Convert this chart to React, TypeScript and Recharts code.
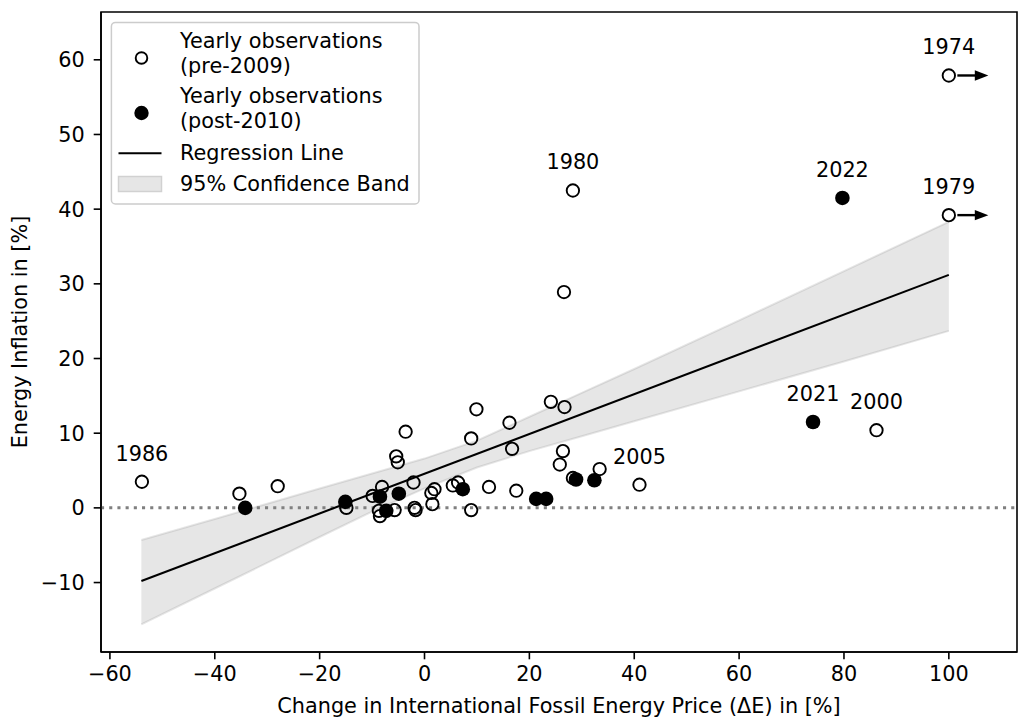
import React from 'react';
import {
  ComposedChart,
  XAxis,
  YAxis,
  Scatter,
  Line,
  Area,
  ReferenceLine,
  ReferenceArea,
} from 'recharts';

// ---------- data ----------
const preObs = [
  { x: 100, y: 57.9 },
  { x: 100, y: 39.2 },
  { x: 28.3, y: 42.5 },
  { x: 26.6, y: 28.9 },
  { x: 86.2, y: 10.4 },
  { x: 41.0, y: 3.1 },
  { x: -53.9, y: 3.5 },
  { x: -35.3, y: 1.9 },
  { x: -28.0, y: 2.9 },
  { x: -14.9, y: 0.0 },
  { x: -9.9, y: 1.6 },
  { x: -8.1, y: 2.8 },
  { x: -8.7, y: -0.4 },
  { x: -8.5, y: -1.1 },
  { x: -5.7, y: -0.3 },
  { x: -5.4, y: 6.9 },
  { x: -5.1, y: 6.1 },
  { x: -3.6, y: 10.2 },
  { x: -2.1, y: 3.4 },
  { x: -1.9, y: 0.0 },
  { x: -1.7, y: -0.3 },
  { x: 1.3, y: 2.0 },
  { x: 1.9, y: 2.5 },
  { x: 1.5, y: 0.5 },
  { x: 5.4, y: 3.0 },
  { x: 6.4, y: 3.4 },
  { x: 8.9, y: -0.3 },
  { x: 8.9, y: 9.3 },
  { x: 9.9, y: 13.2 },
  { x: 12.3, y: 2.8 },
  { x: 16.2, y: 11.4 },
  { x: 16.7, y: 7.9 },
  { x: 17.5, y: 2.3 },
  { x: 24.1, y: 14.2 },
  { x: 26.7, y: 13.5 },
  { x: 26.4, y: 7.6 },
  { x: 25.8, y: 5.8 },
  { x: 28.3, y: 4.0 },
  { x: 33.4, y: 5.2 },
];

const postObs = [
  { x: -34.2, y: 0.0 },
  { x: -15.1, y: 0.8 },
  { x: -8.5, y: 1.5 },
  { x: -7.3, y: -0.4 },
  { x: -4.9, y: 1.9 },
  { x: 7.3, y: 2.5 },
  { x: 21.3, y: 1.2 },
  { x: 23.2, y: 1.2 },
  { x: 28.9, y: 3.8 },
  { x: 32.4, y: 3.7 },
  { x: 74.1, y: 11.5 },
  { x: 79.7, y: 41.5 },
];

const regression = [
  { x: -54, y: -9.8 },
  { x: 100, y: 31.2 },
];

const bandX = [-54, -40, -20, -10, 0, 10, 20, 30, 40, 60, 80, 100];
const bandLower = [-15.6, -10.8, -3.9, -0.5, 2.6, 5.4, 7.6, 9.6, 11.6, 15.6, 19.6, 23.7];
const bandUpper = [-4.3, -1.5, 2.6, 4.6, 6.6, 9.0, 12.2, 15.4, 18.6, 25.1, 31.7, 38.3];

const annotations = [
  { x: 100, y: 57.9, year: '1974' },
  { x: 100, y: 39.2, year: '1979' },
  { x: 28.3, y: 42.5, year: '1980' },
  { x: 79.7, y: 41.5, year: '2022' },
  { x: 74.1, y: 11.5, year: '2021' },
  { x: 86.2, y: 10.4, year: '2000' },
  { x: 41.0, y: 3.1, year: '2005' },
  { x: -53.9, y: 3.5, year: '1986' },
];

const arrows = [
  { x: 100, y: 57.9 },
  { x: 100, y: 39.2 },
];

const xTicks = [-60, -40, -20, 0, 20, 40, 60, 80, 100];
const yTicks = [-10, 0, 10, 20, 30, 40, 50, 60];

const X_DOMAIN: [number, number] = [-61.7, 113];
const Y_DOMAIN: [number, number] = [-19.3, 66.4];

const bandRows = bandX.map((x, i) => ({ x, band: [bandLower[i], bandUpper[i]] }));

// ---------- styles ----------
const FONT = 'DejaVu Sans, Verdana, sans-serif';
const FS = 20.8;
const fmt = (v: number) => (v < 0 ? '\u2212' + Math.abs(v) : String(v));

const OpenMarker = (p: any) => (
  <circle cx={p.cx} cy={p.cy} r={6.2} fill="none" stroke="#000" strokeWidth={1.9} />
);
const FilledMarker = (p: any) => <circle cx={p.cx} cy={p.cy} r={7.3} fill="#000" />;
const ArrowMark = (p: any) => (
  <g>
    <line x1={p.cx + 8.5} y1={p.cy} x2={p.cx + 28} y2={p.cy} stroke="#000" strokeWidth={2.4} />
    <polygon
      points={`${p.cx + 26},${p.cy - 5.2} ${p.cx + 39.5},${p.cy} ${p.cx + 26},${p.cy + 5.2}`}
      fill="#000"
    />
  </g>
);
const YearLabel = (p: any) => (
  <text
    x={p.cx}
    y={p.cy - 21.2}
    textAnchor="middle"
    fontSize={FS}
    fontFamily={FONT}
    fill="#000"
  >
    {p.payload?.year}
  </text>
);

const LegendBox = () => (
  <svg
    width={1018}
    height={719}
    style={{ position: 'absolute', left: 0, top: 0, pointerEvents: 'none' }}
  >
    <rect
      x={111.4}
      y={22.4}
      width={307.6}
      height={181.6}
      rx={4}
      fill="#fff"
      fillOpacity={0.8}
      stroke="#cccccc"
      strokeWidth={1.5}
    />
    <circle cx={141.5} cy={58} r={5.8} fill="none" stroke="#000" strokeWidth={1.9} />
    <circle cx={141.5} cy={113} r={7.2} fill="#000" />
    <line x1={118.5} y1={153.3} x2={161.5} y2={153.3} stroke="#000" strokeWidth={2.1} />
    <rect x={118.5} y={176.5} width={43} height={15} fill="#e6e6e6" stroke="#d1d1d1" strokeWidth={1.5} />
    <g fontFamily={FONT} fontSize={FS} fill="#000">
      <text x={180} y={47.5}>Yearly observations</text>
      <text x={180} y={72.5}>(pre-2009)</text>
      <text x={180} y={103}>Yearly observations</text>
      <text x={180} y={128}>(post-2010)</text>
      <text x={180} y={159.5}>Regression Line</text>
      <text x={180} y={191}>95% Confidence Band</text>
    </g>
  </svg>
);

export default function App() {
  const tickStyle = { fontSize: FS, fontFamily: FONT, fill: '#000' };
  return (
    <div style={{ position: 'absolute', left: 0, top: 0, width: 1018, height: 719, background: '#fff' }}>
      <ComposedChart
        width={1018}
        height={719}
        data={bandRows}
        margin={{ top: 12, right: 1, bottom: 0, left: 0 }}
      >
        <XAxis
          dataKey="x"
          type="number"
          domain={X_DOMAIN}
          ticks={xTicks}
          allowDataOverflow
          tickFormatter={fmt}
          tick={tickStyle}
          tickSize={7.3}
          tickMargin={7}
          height={67}
          stroke="#000"
          axisLine={{ stroke: '#000', strokeWidth: 1.6 }}
          tickLine={{ stroke: '#000', strokeWidth: 1.6 }}
          label={{
            value: 'Change in International Fossil Energy Price (\u0394E) in [%]',
            position: 'insideBottom',
            offset: 6,
            style: { fontSize: FS, fontFamily: FONT, fill: '#000' },
          }}
        />
        <YAxis
          dataKey="y"
          type="number"
          domain={Y_DOMAIN}
          ticks={yTicks}
          allowDataOverflow
          tickFormatter={fmt}
          tick={tickStyle}
          tickSize={7.3}
          tickMargin={9}
          width={101}
          stroke="#000"
          axisLine={{ stroke: '#000', strokeWidth: 1.6 }}
          tickLine={{ stroke: '#000', strokeWidth: 1.6 }}
          label={{
            value: 'Energy Inflation in [%]',
            angle: -90,
            position: 'insideLeft',
            offset: 20,
            style: { fontSize: FS, fontFamily: FONT, fill: '#000', textAnchor: 'middle' },
          }}
        />
        <Area
          dataKey="band"
          type="linear"
          fill="#808080"
          fillOpacity={0.2}
          stroke="#808080"
          strokeOpacity={0.2}
          strokeWidth={2}
          isAnimationActive={false}
          dot={false}
          activeDot={false}
        />
        <ReferenceLine
          y={0}
          stroke="#808080"
          strokeWidth={3}
          strokeDasharray="3.1 5.1"
        />
        <Line
          data={regression}
          dataKey="y"
          type="linear"
          stroke="#000"
          strokeWidth={2.1}
          dot={false}
          activeDot={false}
          isAnimationActive={false}
        />
        <Scatter data={preObs} dataKey="y" shape={OpenMarker} isAnimationActive={false} />
        <Scatter data={postObs} dataKey="y" shape={FilledMarker} isAnimationActive={false} />
        <Scatter data={arrows} dataKey="y" shape={ArrowMark} isAnimationActive={false} />
        <Scatter data={annotations} dataKey="y" shape={YearLabel} isAnimationActive={false} />
        <ReferenceArea
          x1={X_DOMAIN[0]}
          x2={X_DOMAIN[1]}
          y1={Y_DOMAIN[0]}
          y2={Y_DOMAIN[1]}
          fill="none"
          fillOpacity={0}
          stroke="#000"
          strokeWidth={1.6}
          ifOverflow="visible"
        />
      </ComposedChart>
      <LegendBox />
    </div>
  );
}
